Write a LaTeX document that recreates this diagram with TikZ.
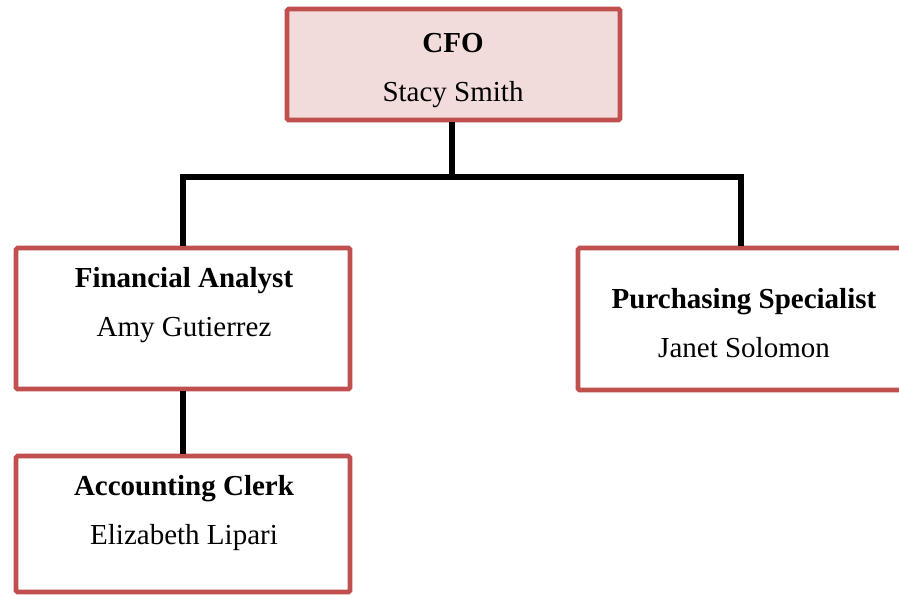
\documentclass[tikz,border=0pt]{standalone}
\usepackage{fontspec}
\setmainfont{Liberation Serif}
\usepackage{tikz}
\usetikzlibrary{positioning}
\definecolor{postred}{HTML}{C0504D}
\definecolor{postpink}{HTML}{F2DCDB}
\tikzset{thick, post/.style={draw=postred,line width=4.6pt,fill=white,rounded corners=1.5pt,inner sep=0pt}}
\tikzstyle{who} = [anchor=north, align=center, inner sep=0pt, font=\fontsize{29}{49}\selectfont]
\tikzstyle{link} = [line width=6pt, line join=miter]

\begin{document}
\begin{tikzpicture}[x=1pt,y=-1pt]
\useasboundingbox (0,0) rectangle (899,595);
% 四个职位框, 大小按原图
\node[post,fill=postpink,minimum width=333pt,minimum height=111pt] (cfo) at (453.5,64.5) {};
\node[post,minimum width=334pt,minimum height=141pt] (fa) at (183,318.5) {};
\node[post,minimum width=332pt,minimum height=142pt] (ps) at (744,319) {};
\node[post,minimum width=334pt,minimum height=136pt] (ac) at (183,524) {};
% 框内文字: 职位 + 姓名
\node[who] (cfo-t) at (453,33.5) {\textbf{CFO}\\Stacy Smith};
\node[who] (fa-t) at (184,267.5) {\textbf{Financial Analyst}\\Amy Gutierrez};
\node[who] (ps-t) at (744,288.5) {\textbf{Purchasing Specialist}\\Janet Solomon};
\node[who] (ac-t) at (184,475.5) {\textbf{Accounting Clerk}\\Elizabeth Lipari};
% 连线: CFO 向下到横线, 再分到两个下属
\coordinate (bus) at (452,177);
\draw[link] (cfo.south -| bus) -- (bus);
\draw[link] (fa.north) |- (bus) -| ([xshift=-3pt]ps.north);
% 财务分析师 到 会计
\draw[link] (fa.south) -- (ac.north);
\end{tikzpicture}
\end{document}
